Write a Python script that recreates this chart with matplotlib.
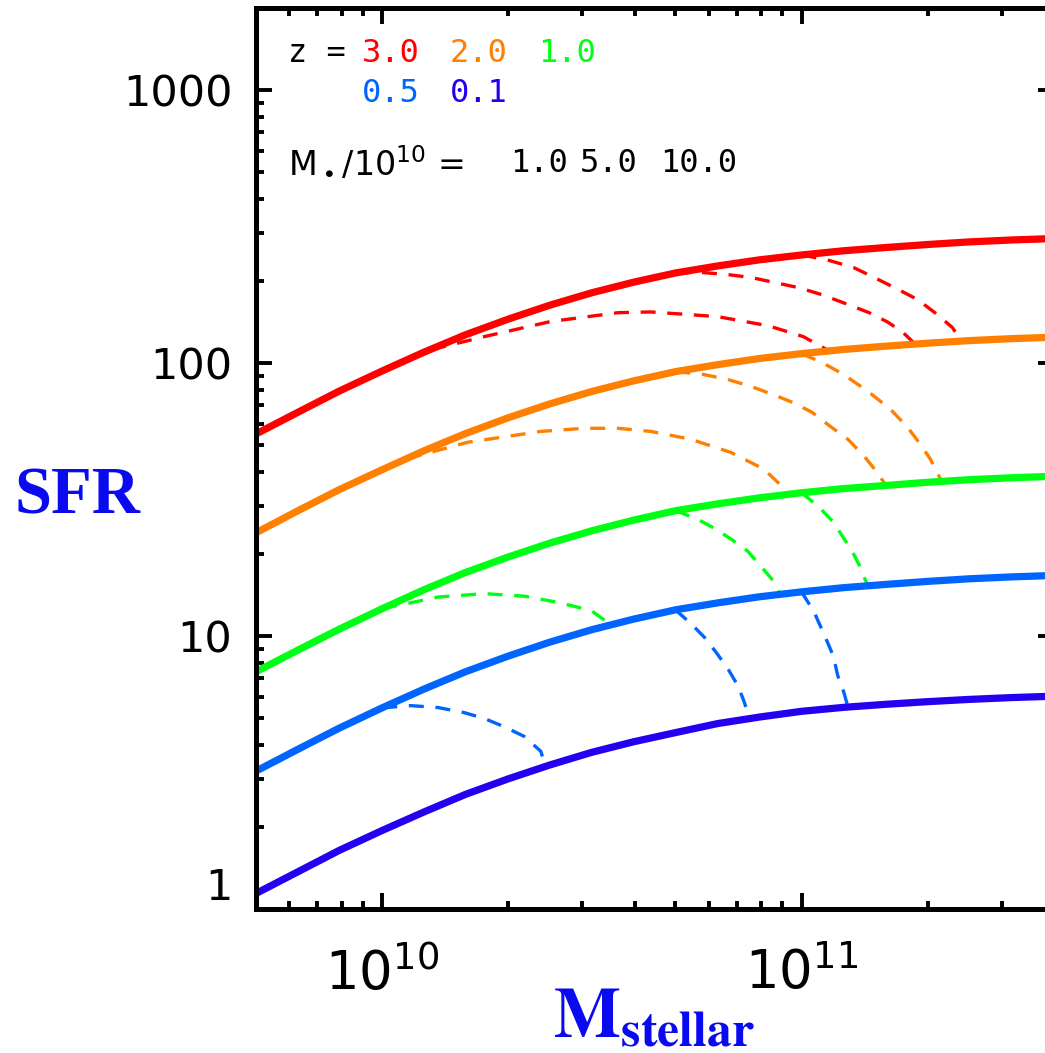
import matplotlib
matplotlib.use("Agg")
import matplotlib.pyplot as plt
from matplotlib.ticker import FixedLocator, LogLocator, NullFormatter
import numpy as np

plt.rcParams["mathtext.fontset"] = "custom"
plt.rcParams["mathtext.rm"] = "Liberation Sans Narrow"
plt.rcParams["mathtext.it"] = "Liberation Sans Narrow"

# main-sequence SFR vs stellar mass, one solid curve per redshift
mass_grid = [5.0e9, 6.3e9, 7.9e9, 1.0e10, 1.26e10, 1.58e10, 2.0e10, 2.51e10, 3.16e10, 3.98e10,
             5.01e10, 6.31e10, 7.94e10, 1.0e11, 1.26e11, 1.58e11, 2.0e11, 2.51e11, 3.16e11, 3.98e11]
sfr_z30 = [55.0, 66.1, 79.0, 93.6, 109.8, 127, 145, 163, 181, 198,
           214, 227, 239, 249, 258, 265, 272, 278, 282.5, 286]
sfr_z20 = [23.9, 28.8, 34.4, 40.7, 47.8, 55.2, 63.1, 70.9, 78.7, 86.1,
           93.1, 98.7, 104.0, 108.3, 112.2, 115.3, 118.3, 120.9, 122.9, 124.4]
sfr_z10 = [7.40, 8.89, 10.6, 12.6, 14.8, 17.1, 19.5, 21.9, 24.3, 26.6,
           28.8, 30.5, 32.1, 33.5, 34.7, 35.6, 36.6, 37.4, 38.0, 38.5]
sfr_z05 = [3.2, 3.85, 4.6, 5.46, 6.40, 7.40, 8.45, 9.50, 10.55, 11.54,
           12.48, 13.23, 13.93, 14.52, 15.04, 15.45, 15.86, 16.21, 16.47, 16.67]
sfr_z01 = [1.14, 1.37, 1.64, 1.94, 2.27, 2.63, 3.0, 3.37, 3.75, 4.10,
           4.43, 4.78, 5.05, 5.3, 5.48, 5.62, 5.75, 5.86, 5.95, 6.02]

redshifts = ["3.0", "2.0", "1.0", "0.5", "0.1"]
colors = ["#FF0000", "#FF8000", "#00FF14", "#0064FF", "#2400F0"]
solid_sfr = [sfr_z30, sfr_z20, sfr_z10, sfr_z05, sfr_z01]
mstar_labels = ["1.0", "5.0", "10.0"]

# quenching tracks starting at M* = 1e10, 5e10, 1e11
z30_m1 = ([1.0e10, 1.31e10, 1.75e10, 2.52e10, 3.65e10, 4.37e10, 6.31e10, 8.34e10, 1.01e11, 1.15e11],
          [93.6, 112, 125, 142, 153, 154, 148, 137, 125, 112])
z30_m5 = ([5.0e10, 5.75e10, 6.67e10, 7.57e10, 8.67e10, 9.84e10, 1.12e11, 1.29e11, 1.45e11, 1.61e11, 1.75e11, 1.85e11],
          [214, 215, 211, 206, 197, 189, 178, 164, 153, 141, 129, 119])
z30_m10 = ([1.0e11, 1.15e11, 1.33e11, 1.48e11, 1.69e11, 1.89e11, 2.08e11, 2.29e11, 2.39e11],
           [249, 239, 224, 207, 187, 171, 153, 135, 122])

z20_m1 = ([1.0e10, 1.17e10, 1.60e10, 2.39e10, 3.03e10, 3.65e10, 4.37e10, 5.44e10, 6.78e10, 8.13e10, 9.3e10],
          [40.7, 45.0, 51.3, 56.2, 57.7, 57.7, 56.2, 52.6, 47.1, 40.9, 33.6])
z20_m5 = ([5.0e10, 5.85e10, 6.67e10, 7.57e10, 8.53e10, 9.52e10, 1.06e11, 1.17e11, 1.29e11, 1.41e11, 1.48e11, 1.58e11],
          [93.1, 90.8, 87.1, 82.2, 76.8, 71.8, 66.0, 58.7, 52.6, 45.6, 41.6, 36.2])
z20_m10 = ([1.0e11, 1.12e11, 1.26e11, 1.44e11, 1.63e11, 1.79e11, 1.92e11, 2.03e11, 2.15e11],
           [108.3, 100.5, 90.8, 78.8, 67.7, 58.2, 50.4, 44.4, 37.3])

z10_m1 = ([1.0e10, 1.36e10, 1.75e10, 2.18e10, 2.62e10, 3.15e10, 3.45e10],
          [12.6, 13.9, 14.3, 14.0, 13.3, 12.4, 11.2])
z10_m5 = ([5.0e10, 5.65e10, 6.17e10, 6.78e10, 7.43e10, 7.98e10, 8.57e10, 8.9e10],
          [28.8, 26.8, 24.9, 22.7, 20.5, 18.1, 15.9, 14.2])
z10_m10 = ([1.0e11, 1.10e11, 1.19e11, 1.25e11, 1.32e11, 1.38e11, 1.44e11],
           [33.5, 29.7, 26.2, 23.3, 20.5, 17.9, 15.2])

z05_m1 = ([1.0e10, 1.17e10, 1.36e10, 1.57e10, 1.75e10, 1.95e10, 2.18e10, 2.39e10, 2.45e10],
          [5.46, 5.56, 5.47, 5.24, 4.99, 4.66, 4.29, 3.78, 3.3])
z05_m5 = ([5.0e10, 5.45e10, 5.85e10, 6.24e10, 6.67e10, 7.05e10, 7.28e10, 7.55e10],
          [12.48, 11.1, 9.94, 8.76, 7.60, 6.58, 5.80, 4.9])
z05_m10 = ([1.0e11, 1.07e11, 1.13e11, 1.19e11, 1.22e11, 1.26e11, 1.29e11],
           [14.52, 12.3, 10.2, 8.47, 7.16, 6.26, 5.5])

dashed_tracks = [
    (z30_m1, 0), (z30_m5, 0), (z30_m10, 0),
    (z20_m1, 1), (z20_m5, 1), (z20_m10, 1),
    (z10_m1, 2), (z10_m5, 2), (z10_m10, 2),
    (z05_m1, 3), (z05_m5, 3), (z05_m10, 3),
]

W, H = 1045, 1053
fig = plt.figure(figsize=(W / 100, H / 100), dpi=100)
ax = fig.add_axes([256 / W, 1 - 909 / H, (1054 - 256) / W, (909 - 8) / H])

for (m, s), ci in dashed_tracks:
    ax.plot(m, s, color=colors[ci], lw=2.4, dashes=(4.5, 3.5), solid_capstyle="butt")
for s, c in zip(solid_sfr, colors):
    ax.plot(mass_grid, s, color=c, lw=5.2, solid_joinstyle="round")

ax.set_xscale("log")
ax.set_yscale("log")
ax.set_xlim(5e9, 4e11)
ax.set_ylim(1, 2000)

ax.xaxis.set_major_locator(FixedLocator([1e10, 1e11]))
ax.xaxis.set_minor_locator(LogLocator(base=10, subs=np.arange(2, 10)))
ax.xaxis.set_minor_formatter(NullFormatter())
ax.set_xticklabels([r"$10^{10}$", r"$10^{11}$"])
ax.yaxis.set_major_locator(FixedLocator([1, 10, 100, 1000]))
ax.yaxis.set_minor_locator(LogLocator(base=10, subs=np.arange(2, 10)))
ax.yaxis.set_minor_formatter(NullFormatter())
ax.set_yticklabels(["1", "10", "100", "1000"])

for sp in ax.spines.values():
    sp.set_linewidth(3.6)
ax.tick_params(which="both", direction="in", top=True, right=True, width=2.8)
ax.tick_params(which="major", length=11.5)
ax.tick_params(which="minor", length=5.8)
ax.tick_params(axis="y", which="major", labelsize=31, pad=17)
ax.tick_params(axis="x", which="major", labelsize=38, pad=28)
# keep the bottom "1" label inside the frame height
ax.yaxis.get_major_ticks()[0].label1.set_verticalalignment("bottom")

ax.text(-0.224, 0.457, "SFR", transform=ax.transAxes, family="Liberation Serif",
        fontweight="bold", fontsize=48, color="#0A0AF0", ha="center", va="center")
ax.text(0.372, -0.082, r"$\mathbf{M}_{\mathbf{stellar}}$", transform=ax.transAxes,
        fontsize=51, color="#0A0AF0", ha="left", va="top", math_fontfamily="stix")


def fig_text(px, py, s, color="black", size=23, family="DejaVu Sans Mono"):
    fig.text(px / W, 1 - py / H, s, color=color, fontsize=size, va="center", ha="left",
             family=family, math_fontfamily="dejavusans")


fig_text(288, 54, "z =")
for i, (label, c) in enumerate(zip(redshifts, colors)):
    col, row = i % 3, i // 3
    fig_text(362 + col * 88, 54 + row * 40, label, color=c)
fig_text(288, 163, r"M$_\bullet$/10$^{10}$ =", size=24, family="DejaVu Sans")
for px, label in zip([510, 580, 660], mstar_labels):
    fig_text(px, 163, label)

fig.savefig("out.png", dpi=100)
